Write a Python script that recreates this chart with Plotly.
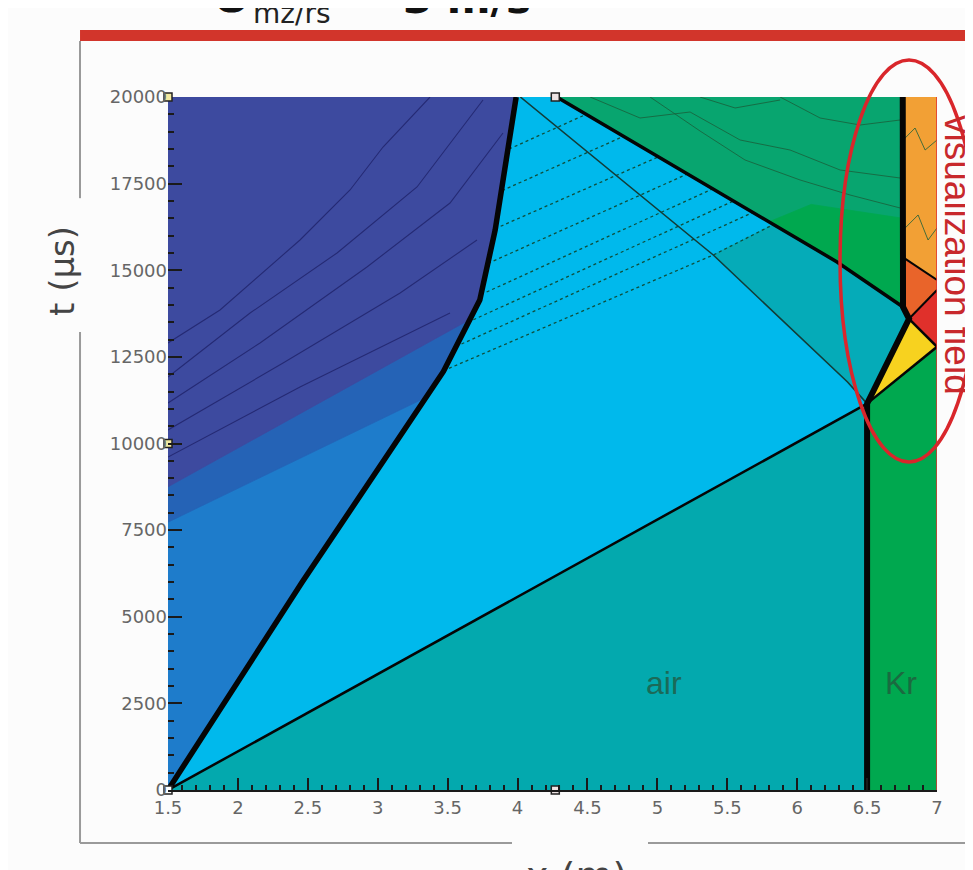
import plotly.graph_objects as go

# ---------------- data (x in m, t in microseconds) ----------------
contact_x = [1.5, 2.46, 3.47, 3.60, 3.73, 3.84, 3.91, 3.96, 3.99]
contact_t = [0, 6000, 12080, 13150, 14140, 16160, 17890, 19050, 20000]

shock_x = [1.5, 6.5]
shock_t = [0, 11150]

refl_wave_x = [6.5, 6.36, 5.40, 4.02]
refl_wave_t = [11150, 11775, 15440, 20000]

refl_shock_x = [4.28, 6.285, 6.757]
refl_shock_t = [20000, 15240, 13940]

kr_iface_x = [6.5, 6.5, 6.80, 6.757, 6.755]
kr_iface_t = [0, 11150, 13600, 13940, 20000]

trans_shock_x = [6.5, 7.0]
trans_shock_t = [11150, 12790]
kr_refl_x = [7.0, 6.80]
kr_refl_t = [12790, 13600]
kr_line2_x = [6.80, 7.0]
kr_line2_t = [13600, 14430]
kr_line3_x = [6.755, 7.0]
kr_line3_t = [15380, 14720]

# region polygons
lightblue_x = [1.5, 6.5, 6.757, 6.285, 4.28, 1.5]
lightblue_t = [0, 11150, 13940, 15240, 20000, 20000]
band_x = [1.5, 3.35, 3.47, 3.60, 3.73, 3.84, 3.91, 3.96, 3.99, 1.5]
band_t = [7730, 11340, 12080, 13150, 14140, 16160, 17890, 19050, 20000, 20000]
navy_x = [1.5, 3.65, 3.73, 3.84, 3.91, 3.96, 3.99, 1.5]
navy_t = [8750, 13560, 14140, 16160, 17890, 19050, 20000, 20000]
tealpatch_x = [6.5, 6.36, 5.40, 5.83, 6.285, 6.757, 6.80]
tealpatch_t = [11150, 11775, 15440, 16320, 15240, 13940, 13600]
upgreen_x = [4.28, 6.285, 6.757, 6.755]
upgreen_t = [20000, 15240, 13940, 20000]
brightgreen_x = [5.80, 6.10, 6.755, 6.757, 6.285]
brightgreen_t = [16400, 16900, 16500, 13940, 15240]
kr_x = [6.5, 7.0, 7.0, 6.755, 6.757, 6.80, 6.5]
kr_t = [0, 0, 20000, 20000, 13940, 13600, 11150]
orange_x = [6.755, 7.0, 7.0, 6.755]
orange_t = [20000, 20000, 14720, 15380]
orangered_x = [6.755, 7.0, 7.0, 6.80, 6.757]
orangered_t = [15380, 14720, 14430, 13600, 13940]
red_x = [6.80, 7.0, 7.0]
red_t = [13600, 14430, 12790]
yellow_x = [6.52, 7.0, 6.80]
yellow_t = [11250, 12790, 13600]

# contour lines in the driver region
navy_lines = [
    ([1.5, 1.872, 2.444, 2.802, 3.038, 3.374], [12900, 13853, 15873, 17316, 18557, 20000]),
    ([1.5, 2.087, 2.709, 3.281, 3.753], [11919, 13766, 15498, 17403, 19913]),
    ([1.5, 2.158, 2.923, 3.517, 3.896], [11169, 12900, 15094, 16941, 18961]),
    ([1.5, 2.323, 3.16, 3.71], [10390, 12323, 14343, 15873]),
    ([1.5, 2.444, 3.517], [9610, 11631, 13766]),
]
# characteristics in the shocked-air region
char_lines = [
    ([3.47, 5.40, 5.83], [12100, 15440, 16320]),
    ([3.56, 5.68], [12800, 16660]),
    ([3.645, 5.54], [13500, 16990]),
    ([3.74, 5.39], [14300, 17340]),
    ([3.79, 5.21], [15200, 17770]),
    ([3.84, 5.00], [16200, 18260]),
    ([3.89, 4.75], [17300, 18850]),
    ([3.94, 4.48], [18500, 19480]),
]
# contours in the upper green / orange region
green_lines = [
    ([4.519, 4.876, 5.234, 5.592, 5.949, 6.307, 6.736], [20000, 19394, 19567, 18759, 18470, 17893, 17662]),
    ([4.948, 5.305, 5.627, 6.021, 6.378, 6.736], [20000, 19019, 18182, 17605, 17172, 16797]),
    ([5.878, 6.164, 6.450, 6.736], [20000, 19394, 19192, 19336]),
    ([5.305, 5.556, 5.878], [20000, 19683, 19913]),
    ([6.758, 6.843, 6.915, 7.0], [18759, 19105, 18470, 18759]),
    ([6.758, 6.865, 6.936, 7.0], [16162, 16595, 15873, 16220]),
]

handle_x = [1.5, 1.5, 1.5, 4.27, 4.27, 7.03, 7.03, 7.03]
handle_t = [20000, 10000, 0, 20000, 0, 20000, 10000, 0]
handle_fill = ["#F2E8A0", "#F2E8A0", "#FFFFFF", "#EEE4E4", "#EEE4E4", "#111111", "#111111", "#111111"]

# colours
C_AIR = "#03A9AE"
C_LIGHTBLUE = "#00B9EC"
C_LOWBLUE = "#1E7CCB"
C_BAND = "#2563B6"
C_NAVY = "#3D4A9F"
C_TEAL2 = "#05ABB8"
C_UPGREEN = "#08A56F"
C_KR = "#00A84F"
C_ORANGE = "#F2A035"
C_ORANGERED = "#E9642A"
C_RED = "#E0302B"
C_YELLOW = "#F7D21F"

fig = go.Figure()


def poly(xs, ts, color):
    fig.add_trace(go.Scatter(x=xs, y=ts, mode="lines", fill="toself", fillcolor=color,
                             line=dict(color=color, width=0.8), hoverinfo="skip", showlegend=False))


def line(xs, ts, color="#000000", width=2, dash="solid"):
    fig.add_trace(go.Scatter(x=xs, y=ts, mode="lines", line=dict(color=color, width=width, dash=dash),
                             hoverinfo="skip", showlegend=False))


poly(lightblue_x, lightblue_t, C_LIGHTBLUE)
poly(contact_x + [1.5], contact_t + [20000], C_LOWBLUE)
poly(band_x, band_t, C_BAND)
poly(navy_x, navy_t, C_NAVY)
poly(tealpatch_x, tealpatch_t, C_TEAL2)
poly(upgreen_x, upgreen_t, C_UPGREEN)
poly(brightgreen_x, brightgreen_t, C_KR)
poly(kr_x, kr_t, C_KR)
poly(orange_x, orange_t, C_ORANGE)
poly(orangered_x, orangered_t, C_ORANGERED)
poly(red_x, red_t, C_RED)
poly(yellow_x, yellow_t, C_YELLOW)

for xs, ts in navy_lines:
    line(xs, ts, "#252A74", 1.1)
for xs, ts in char_lines:
    line(xs, ts, "#0E4F3C", 1.3, "dot")
for xs, ts in green_lines:
    line(xs, ts, "#1B5E3A", 0.8)

line(refl_wave_x, refl_wave_t, "#123C38", 1.6)
line(shock_x, shock_t, "#050505", 2.5)
line(trans_shock_x, trans_shock_t, "#050505", 2.5)
line(kr_refl_x, kr_refl_t, "#050505", 2.5)
line(kr_line2_x, kr_line2_t, "#050505", 2)
line(kr_line3_x, kr_line3_t, "#050505", 2)
line(refl_shock_x, refl_shock_t, "#050505", 3.5)
line(kr_iface_x, kr_iface_t, "#050505", 6)
line(contact_x, contact_t, "#050505", 5.5)

fig.add_trace(go.Scatter(x=handle_x, y=handle_t, mode="markers", cliponaxis=False,
                         marker=dict(symbol="square", size=8, color=handle_fill,
                                     line=dict(color="#222222", width=1.5)),
                         hoverinfo="skip", showlegend=False))

FONT = "DejaVu Sans"
# the page body adds an 8px margin, so the figure is 8px smaller on each axis
fig.update_layout(
    width=965, height=862,
    margin=dict(l=160, r=36, t=89, b=80),
    paper_bgcolor="#FCFCFC", plot_bgcolor=C_AIR,
    showlegend=False,
    xaxis=dict(range=[1.5, 7], tick0=1.5, dtick=0.5, ticks="inside", ticklen=12, tickwidth=1.5,
               tickcolor="#1A1A1A", showgrid=False, zeroline=False, showline=True,
               linecolor="#1A1A1A", linewidth=2,
               tickfont=dict(family=FONT, size=18, color="#666666"),
               minor=dict(dtick=0.1, ticks="inside", ticklen=5, tickcolor="#1A1A1A", showgrid=False)),
    yaxis=dict(range=[0, 20000], tick0=0, dtick=2500, tickformat="d", ticks="inside", ticklen=14,
               tickwidth=1.5, tickcolor="#1A1A1A", showgrid=False, zeroline=False, showline=False,
               tickfont=dict(family=FONT, size=18, color="#666666"),
               minor=dict(dtick=500, ticks="inside", ticklen=6, tickcolor="#1A1A1A", showgrid=False)),
)

shapes = [
    # right wall of tube
    dict(type="line", xref="x", yref="y", x0=7, x1=7, y0=0, y1=20000, line=dict(color="#E03030", width=1.5)),
    # window frame
    dict(type="rect", xref="paper", yref="paper", x0=-0.1144, x1=1.0468, y0=1.0808, y1=1.0967,
         fillcolor="#D2352B", line=dict(width=0)),
    dict(type="line", xref="paper", yref="paper", x0=-0.1144, x1=-0.1144, y0=1.0808, y1=0.854,
         line=dict(color="#9A9A9A", width=2)),
    dict(type="line", xref="paper", yref="paper", x0=-0.1144, x1=-0.1144, y0=0.661, y1=-0.0765,
         line=dict(color="#9A9A9A", width=2)),
    dict(type="line", xref="paper", yref="paper", x0=-0.1144, x1=0.4473, y0=-0.0765, y1=-0.0765,
         line=dict(color="#9A9A9A", width=2)),
    dict(type="line", xref="paper", yref="paper", x0=0.6242, x1=1.0468, y0=-0.0765, y1=-0.0765,
         line=dict(color="#9A9A9A", width=2)),
    # visualization field ellipse
    dict(type="circle", xref="paper", yref="paper", x0=0.8739, x1=1.0533, y0=0.4733, y1=1.0534,
         line=dict(color="#D9262B", width=3.5)),
]
fig.update_layout(shapes=shapes)

annotations = [
    dict(x=5.05, y=3088, xref="x", yref="y", text="air", showarrow=False,
         xanchor="center", yanchor="middle",
         font=dict(family="Liberation Sans", size=32, color="#1B6A58")),
    dict(x=6.74, y=3088, xref="x", yref="y", text="Kr", showarrow=False,
         xanchor="center", yanchor="middle",
         font=dict(family="Liberation Sans", size=32, color="#1B6A40")),
    dict(x=1.0273, y=0.772, xref="paper", yref="paper", text="visualization field", textangle=90,
         showarrow=False, xanchor="center", yanchor="middle",
         font=dict(family="Liberation Sans", size=37, color="#C8282C")),
    dict(x=-0.1378, y=0.749, xref="paper", yref="paper", text="t (µs)", textangle=-90,
         showarrow=False, xanchor="center", yanchor="middle",
         font=dict(family=FONT, size=34, color="#444444")),
    dict(x=0.5306, y=-0.0895, xref="paper", yref="paper", text="x (m)", showarrow=False,
         xanchor="center", yanchor="top", font=dict(family=FONT, size=38, color="#444444")),
    dict(x=0.1612, y=1.1212, xref="paper", yref="paper", text="mz/rs", showarrow=False,
         xanchor="center", yanchor="middle", font=dict(family=FONT, size=28, color="#222222")),
    dict(x=0.0832, y=1.1039, xref="paper", yref="paper", text="<b>U</b>", showarrow=False,
         xanchor="center", yanchor="bottom", font=dict(family=FONT, size=48, color="#111111")),
    dict(x=0.389, y=1.1039, xref="paper", yref="paper", text="<b>3 m/s</b>", showarrow=False,
         xanchor="center", yanchor="bottom", font=dict(family=FONT, size=42, color="#111111")),
]
fig.update_layout(annotations=annotations)

fig.write_html("out.html")
